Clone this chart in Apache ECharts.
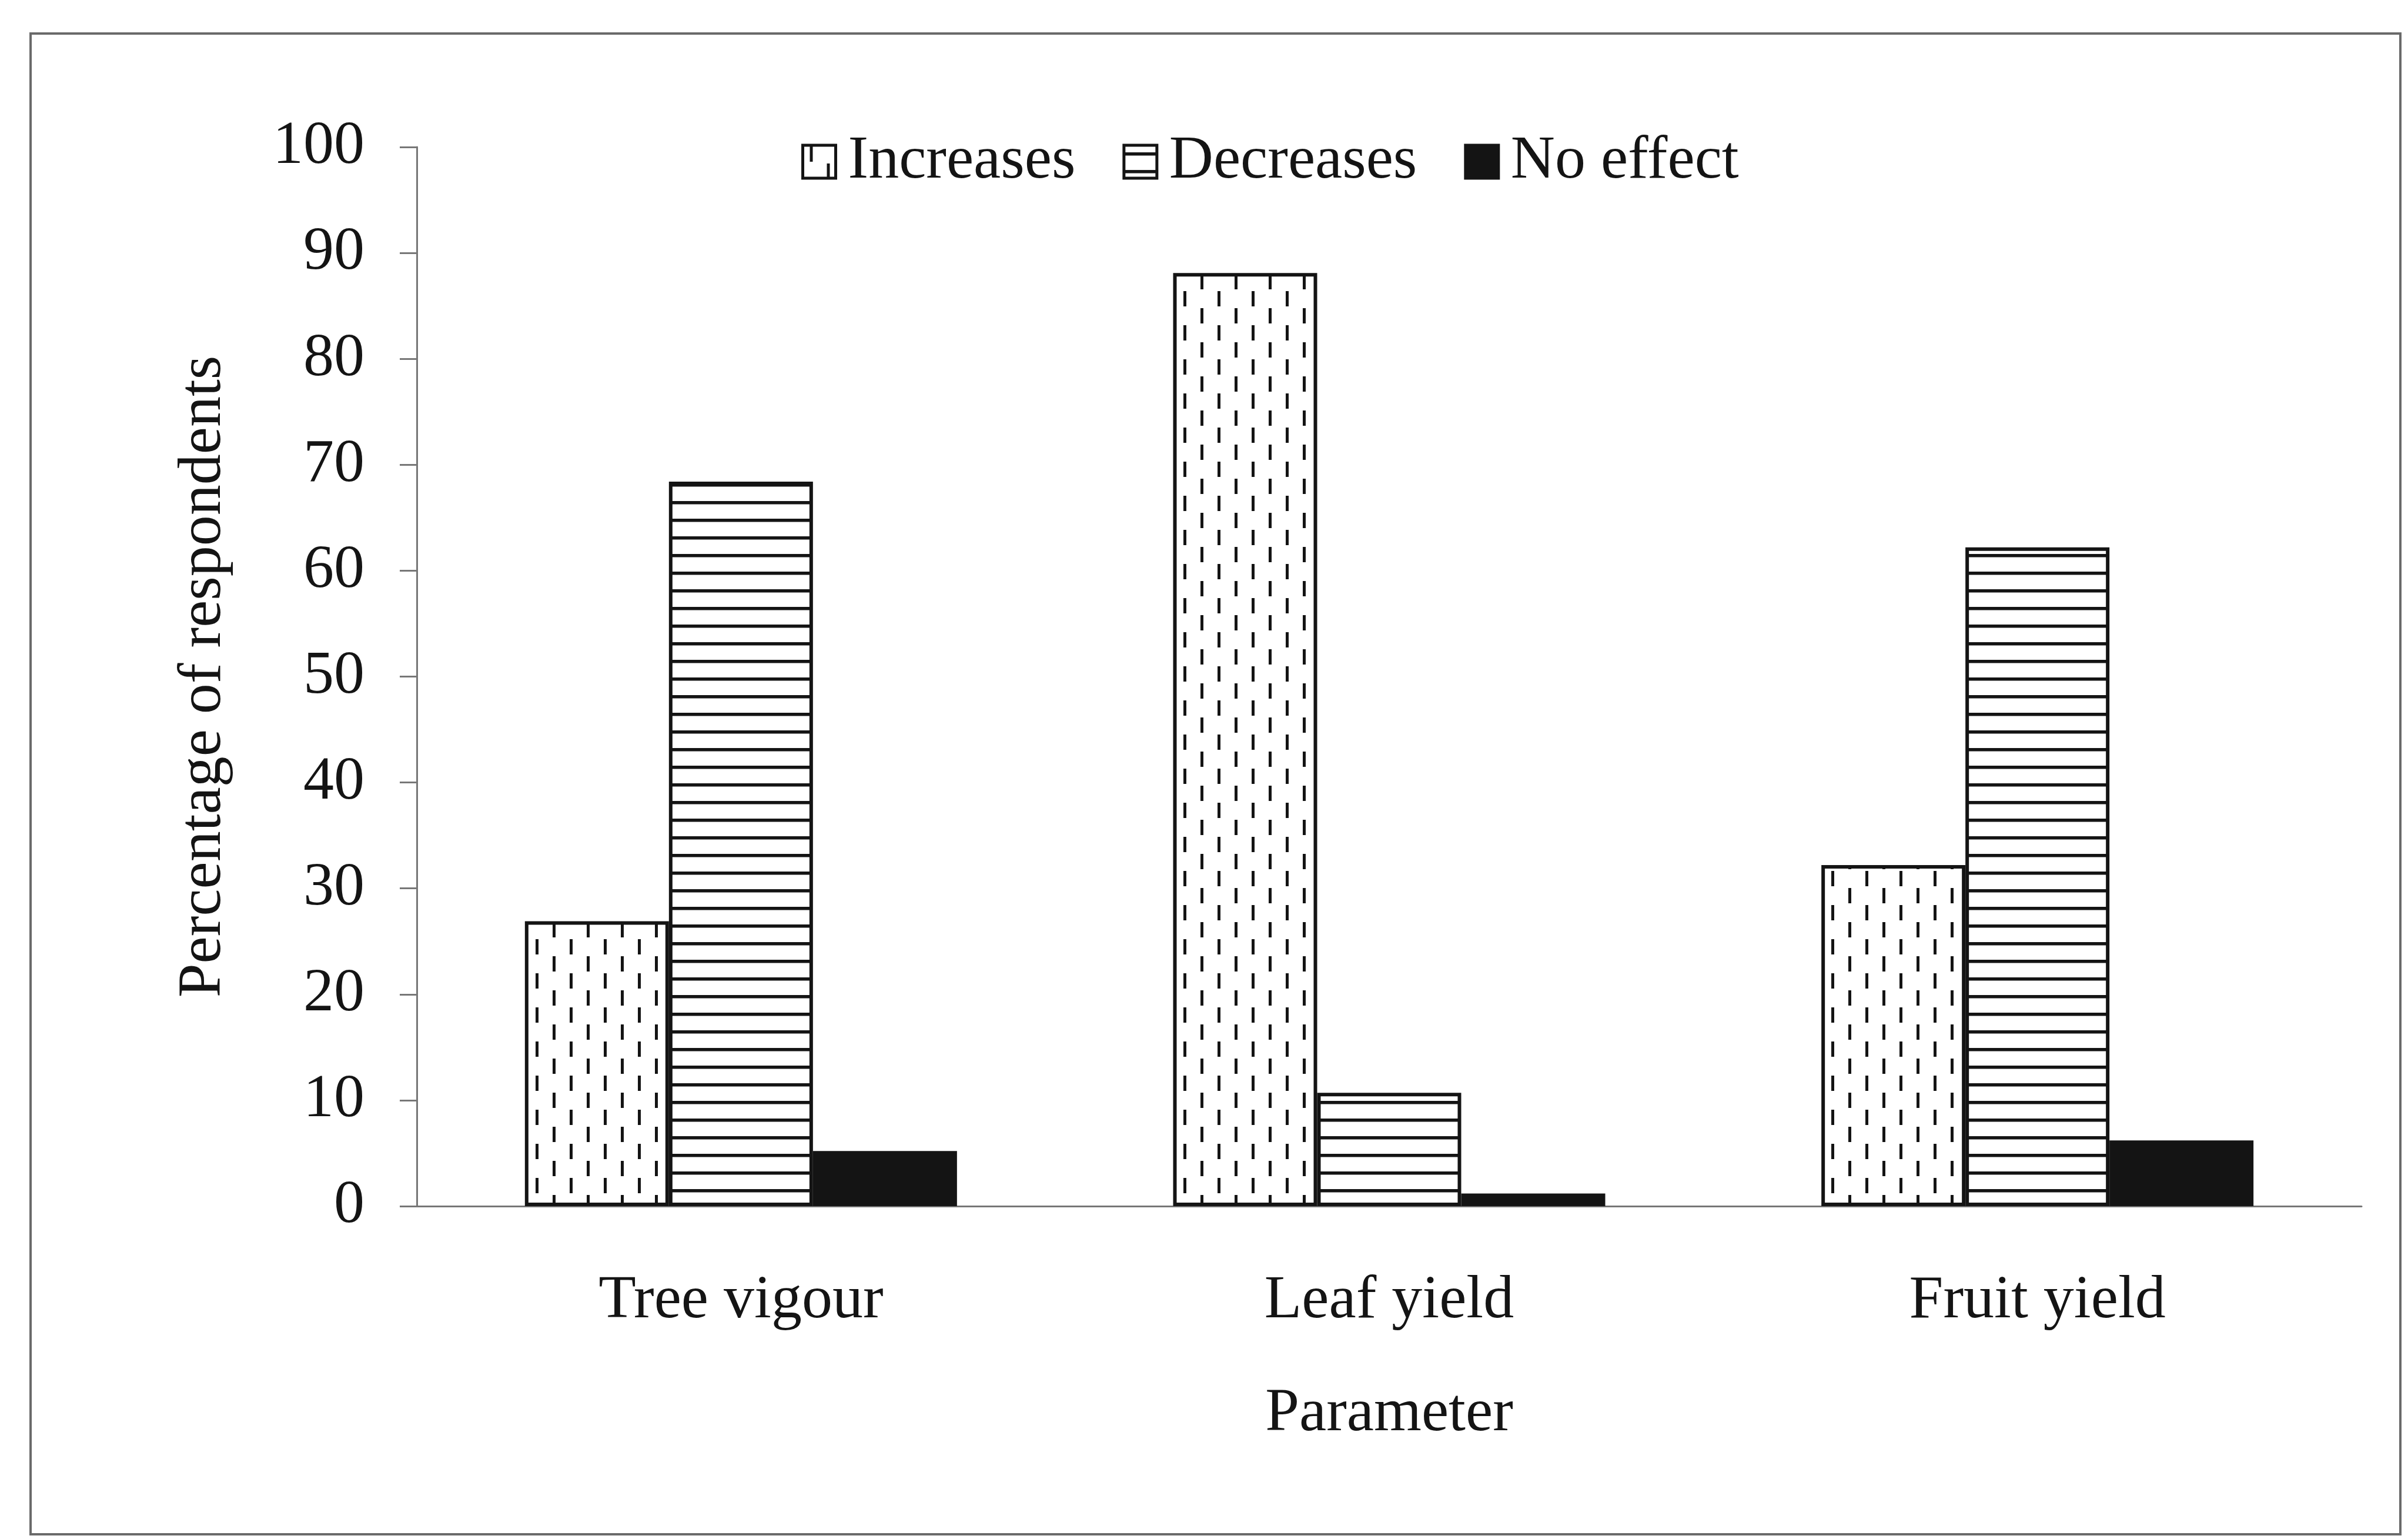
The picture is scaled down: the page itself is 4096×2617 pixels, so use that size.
<!DOCTYPE html>
<html>
<head>
<meta charset="utf-8">
<title>Percentage of respondents by parameter</title>
<script src="https://cdn.jsdelivr.net/npm/echarts@6/dist/echarts.min.js"></script>
<style>
  html, body { margin: 0; padding: 0; background: #fff; }
  #chart { width: 4096px; height: 2617px; }
</style>
</head>
<body>
<div id="chart"></div>
<script>
// Survey data: share of respondents reporting each effect per parameter
const categories = ['Tree vigour', 'Leaf yield', 'Fruit yield'];
const seriesNames = ['Increases', 'Decreases', 'No effect'];
const increases = [26.9, 88.1, 32.2];
const decreases = [68.4, 10.7, 62.2];
const noEffect = [5.2, 1.2, 6.2];
const yTicks = { min: 0, max: 100, step: 10 };

const FONT = 'Liberation Serif, Times New Roman, serif';
const INK = '#141414';
const AXIS = '#777777';

// Staggered short vertical dashes on white
function dashPattern() {
  const c = document.createElement('canvas');
  c.width = 58; c.height = 58;
  const g = c.getContext('2d');
  g.fillStyle = '#fff';
  g.fillRect(0, 0, 58, 58);
  g.fillStyle = INK;
  g.fillRect(12, 2, 5, 26);
  g.fillRect(41, 31, 5, 26);
  return c;
}

// Horizontal hatch lines on white
function hatchPattern() {
  const c = document.createElement('canvas');
  c.width = 16; c.height = 30;
  const g = c.getContext('2d');
  g.fillStyle = '#fff';
  g.fillRect(0, 0, 16, 30);
  g.fillStyle = INK;
  g.fillRect(0, 12, 16, 5.5);
  return c;
}

const chart = echarts.init(document.getElementById('chart'), null, { renderer: 'canvas' });

const barBase = { type: 'bar', barWidth: 245, barGap: '0%' };

chart.setOption({
  backgroundColor: '#fff',
  animation: false,
  graphic: [{
    type: 'rect',
    shape: { x: 52, y: 57, width: 4031, height: 2552 },
    style: { fill: null, stroke: '#6a6a6a', lineWidth: 4 },
    silent: true,
    z: -1
  }],
  legend: {
    data: seriesNames,
    left: 1358,
    top: 218,
    icon: 'rect',
    itemWidth: 56,
    itemHeight: 56,
    itemGap: 80,
    itemStyle: { borderWidth: 5 },
    textStyle: { fontFamily: FONT, fontSize: 104, color: INK, padding: [0, 0, 0, 16] }
  },
  grid: { left: 709, right: 79, top: 250, bottom: 566 },
  xAxis: {
    type: 'category',
    data: categories,
    name: 'Parameter',
    nameLocation: 'middle',
    nameGap: 302,
    nameTextStyle: { fontFamily: FONT, fontSize: 104, color: INK },
    axisLine: { show: true, lineStyle: { color: AXIS, width: 3 } },
    axisTick: { show: false },
    axisLabel: { fontFamily: FONT, fontSize: 104, color: INK, margin: 110 },
    splitLine: { show: false }
  },
  yAxis: {
    type: 'value',
    min: yTicks.min,
    max: yTicks.max,
    interval: yTicks.step,
    name: 'Percentage of respondents',
    nameLocation: 'middle',
    nameGap: 310,
    nameTextStyle: { fontFamily: FONT, fontSize: 104, color: INK },
    axisLine: { show: true, lineStyle: { color: AXIS, width: 3 } },
    axisTick: { show: true, length: 29, lineStyle: { color: AXIS, width: 3 } },
    axisLabel: { fontFamily: FONT, fontSize: 104, color: INK, margin: 89 },
    splitLine: { show: false }
  },
  series: [
    Object.assign({}, barBase, {
      name: seriesNames[0],
      data: increases,
      itemStyle: { color: { image: dashPattern(), repeat: 'repeat' }, borderColor: INK, borderWidth: 6 }
    }),
    Object.assign({}, barBase, {
      name: seriesNames[1],
      data: decreases,
      itemStyle: { color: { image: hatchPattern(), repeat: 'repeat' }, borderColor: INK, borderWidth: 6 }
    }),
    Object.assign({}, barBase, {
      name: seriesNames[2],
      data: noEffect,
      itemStyle: { color: INK, borderColor: INK, borderWidth: 2 }
    })
  ]
});
</script>
</body>
</html>
